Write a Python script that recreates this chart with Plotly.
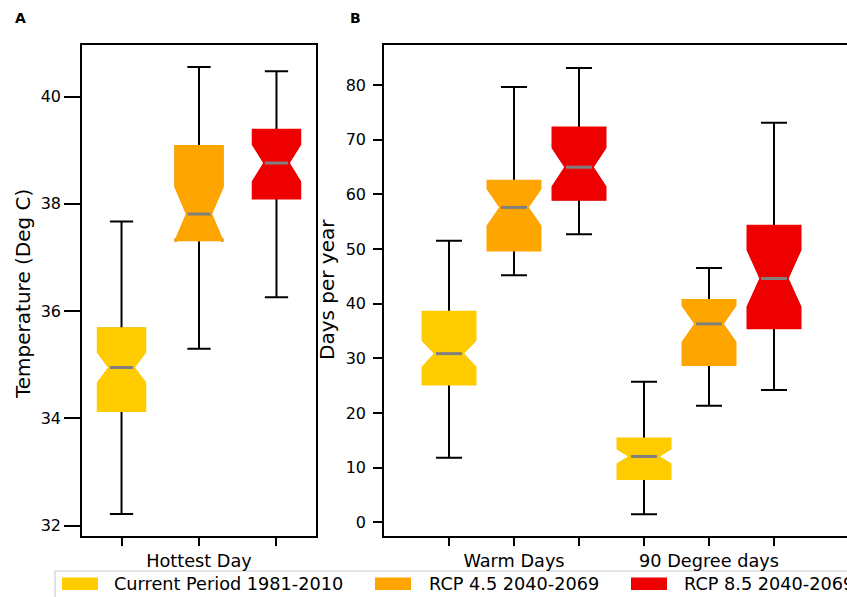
import plotly.graph_objects as go

# ---------------- data ----------------
series_names = ["Current Period 1981-2010", "RCP 4.5 2040-2069", "RCP 8.5 2040-2069"]
series_colors = ["#FFCC00", "#FFA500", "#EE0000"]

# Panel A : Hottest Day (Deg C), one value per series
a_categories = ["Hottest Day"]
a_lower = [32.22, 35.30, 36.26]
a_q1 = [34.15, 37.33, 38.11]
a_median = [34.95, 37.81, 38.76]
a_q3 = [35.67, 39.07, 39.37]
a_upper = [37.67, 40.55, 40.47]
a_notch = [0.29, 0.51, 0.35]
a_yticks = [32, 34, 36, 38, 40]

# Panel B : Days per year
b_categories = ["Warm Days", "90 Degree days"]
warm_lower = [11.8, 45.2, 52.7]
warm_q1 = [25.3, 49.8, 59.1]
warm_median = [30.85, 57.6, 64.95]
warm_q3 = [38.4, 62.4, 72.1]
warm_upper = [51.5, 79.6, 83.1]
warm_notch = [2.5, 3.45, 3.6]

deg90_lower = [1.5, 21.3, 24.2]
deg90_q1 = [8.0, 28.85, 35.6]
deg90_median = [12.05, 36.3, 44.6]
deg90_q3 = [15.25, 40.55, 54.15]
deg90_upper = [25.7, 46.5, 73.1]
deg90_notch = [1.46, 3.4, 5.25]
b_yticks = [0, 10, 20, 30, 40, 50, 60, 70, 80]

# ---------------- figure ----------------
W, H = 847, 597
FONT = "DejaVu Sans"
fig = go.Figure()


def px_x(px):
    return px / W


def px_y(py):
    return 1 - py / H


def add_box(xa, ya, pos, lo, q1, med, q3, hi, notch, width, color):
    # black whiskers + caps (box outline gets hidden by coloured box)
    fig.add_trace(go.Box(
        x=[pos], q1=[q1], median=[med], q3=[q3], lowerfence=[lo], upperfence=[hi],
        notched=True, notchspan=[notch], notchwidth=0.25, width=width, whiskerwidth=0.5,
        line=dict(color="black", width=2), fillcolor="rgba(0,0,0,0)",
        boxpoints=False, showlegend=False, hoverinfo="skip", xaxis=xa, yaxis=ya))
    # coloured notched box
    fig.add_trace(go.Box(
        x=[pos], q1=[q1], median=[med], q3=[q3], lowerfence=[q1], upperfence=[q3],
        notched=True, notchspan=[notch], notchwidth=0.25, width=width, whiskerwidth=0,
        line=dict(color=color, width=3), fillcolor=color,
        boxpoints=False, showlegend=False, hoverinfo="skip", xaxis=xa, yaxis=ya))
    # grey median
    fig.add_trace(go.Scatter(
        x=[pos - 0.25 * width, pos + 0.25 * width], y=[med, med], mode="lines",
        line=dict(color="#808080", width=3), showlegend=False, hoverinfo="skip",
        xaxis=xa, yaxis=ya))


# Panel A
for i in range(3):
    add_box("x", "y", 1 + i, a_lower[i], a_q1[i], a_median[i], a_q3[i], a_upper[i],
            a_notch[i], 0.6, series_colors[i])

# Panel B
groups = [
    (warm_lower, warm_q1, warm_median, warm_q3, warm_upper, warm_notch),
    (deg90_lower, deg90_q1, deg90_median, deg90_q3, deg90_upper, deg90_notch),
]
for g, (lo, q1, md, q3, hi, nt) in enumerate(groups):
    for i in range(3):
        add_box("x2", "y2", 1 + 3 * g + i, lo[i], q1[i], md[i], q3[i], hi[i], nt[i],
                0.8, series_colors[i])

axis_common = dict(showline=True, linecolor="black", linewidth=1.5, ticks="outside",
                   tickcolor="black", tickwidth=1.5, showgrid=False, zeroline=False,
                   automargin=False)

a_tickvals = [1, 2, 3]
a_ticktext = ["", a_categories[0], ""]
b_tickvals = [1, 2, 3, 4, 5, 6]
b_ticktext = ["", b_categories[0], "", "", b_categories[1], ""]

fig.update_layout(
    width=W, height=H, template="none",
    margin=dict(l=0, r=0, t=0, b=0),
    paper_bgcolor="white", plot_bgcolor="white",
    font=dict(family=FONT, color="black"),
    boxmode="overlay", showlegend=False,
    xaxis=dict(domain=[px_x(82), px_x(316)], range=[0.49, 3.51], anchor="y",
               tickvals=a_tickvals, ticktext=a_ticktext, ticklen=8, mirror=True,
               tickfont=dict(size=17.7, family=FONT), ticklabelstandoff=0, **axis_common),
    yaxis=dict(domain=[px_y(536), px_y(45)], range=[31.81, 40.96], anchor="x",
               tickvals=a_yticks, ticklen=16, mirror=True,
               tickfont=dict(size=16, family=FONT), **axis_common),
    xaxis2=dict(domain=[px_x(384), 1.0], range=[0, (W - 384) / 65.0], anchor="y2",
                tickvals=b_tickvals, ticktext=b_ticktext, ticklen=8, mirror=True,
                tickfont=dict(size=17.7, family=FONT), ticklabelstandoff=0, **axis_common),
    yaxis2=dict(domain=[px_y(536), px_y(45)], range=[-2.5, 87.3], anchor="x2",
                tickvals=b_yticks, ticklen=9, mirror=False,
                tickfont=dict(size=16, family=FONT), ticklabelstandoff=4, **axis_common),
)

annotations = [
    dict(text="<b>A</b>", x=px_x(20), y=px_y(18), xref="paper", yref="paper",
         showarrow=False, font=dict(size=14, family=FONT), xanchor="center", yanchor="middle"),
    dict(text="<b>B</b>", x=px_x(355), y=px_y(18), xref="paper", yref="paper",
         showarrow=False, font=dict(size=14, family=FONT), xanchor="center", yanchor="middle"),
    dict(text="Temperature (Deg C)", x=px_x(23), y=px_y(294), xref="paper", yref="paper",
         showarrow=False, textangle=-90, font=dict(size=20, family=FONT),
         xanchor="center", yanchor="middle"),
    dict(text="Days per year", x=px_x(327), y=px_y(290), xref="paper", yref="paper",
         showarrow=False, textangle=-90, font=dict(size=20, family=FONT),
         xanchor="center", yanchor="middle"),
]

# manual legend
shapes = [dict(type="rect", xref="paper", yref="paper", x0=px_x(55), x1=px_x(900),
               y0=px_y(571), y1=px_y(640), line=dict(color="#cccccc", width=1.2),
               fillcolor="white", layer="below")]
patch_x = [62, 375, 631]
text_x = [112, 427, 682]
for i in range(3):
    shapes.append(dict(type="rect", xref="paper", yref="paper",
                       x0=px_x(patch_x[i]), x1=px_x(patch_x[i] + 36),
                       y0=px_y(590), y1=px_y(577.5), line=dict(width=0),
                       fillcolor=series_colors[i]))
    annotations.append(dict(text=series_names[i], x=px_x(text_x[i]), y=px_y(584),
                            xref="paper", yref="paper", showarrow=False,
                            font=dict(size=17.7, family=FONT), xanchor="left",
                            yanchor="middle"))

fig.update_layout(shapes=shapes, annotations=annotations)
fig.write_html("out.html")
